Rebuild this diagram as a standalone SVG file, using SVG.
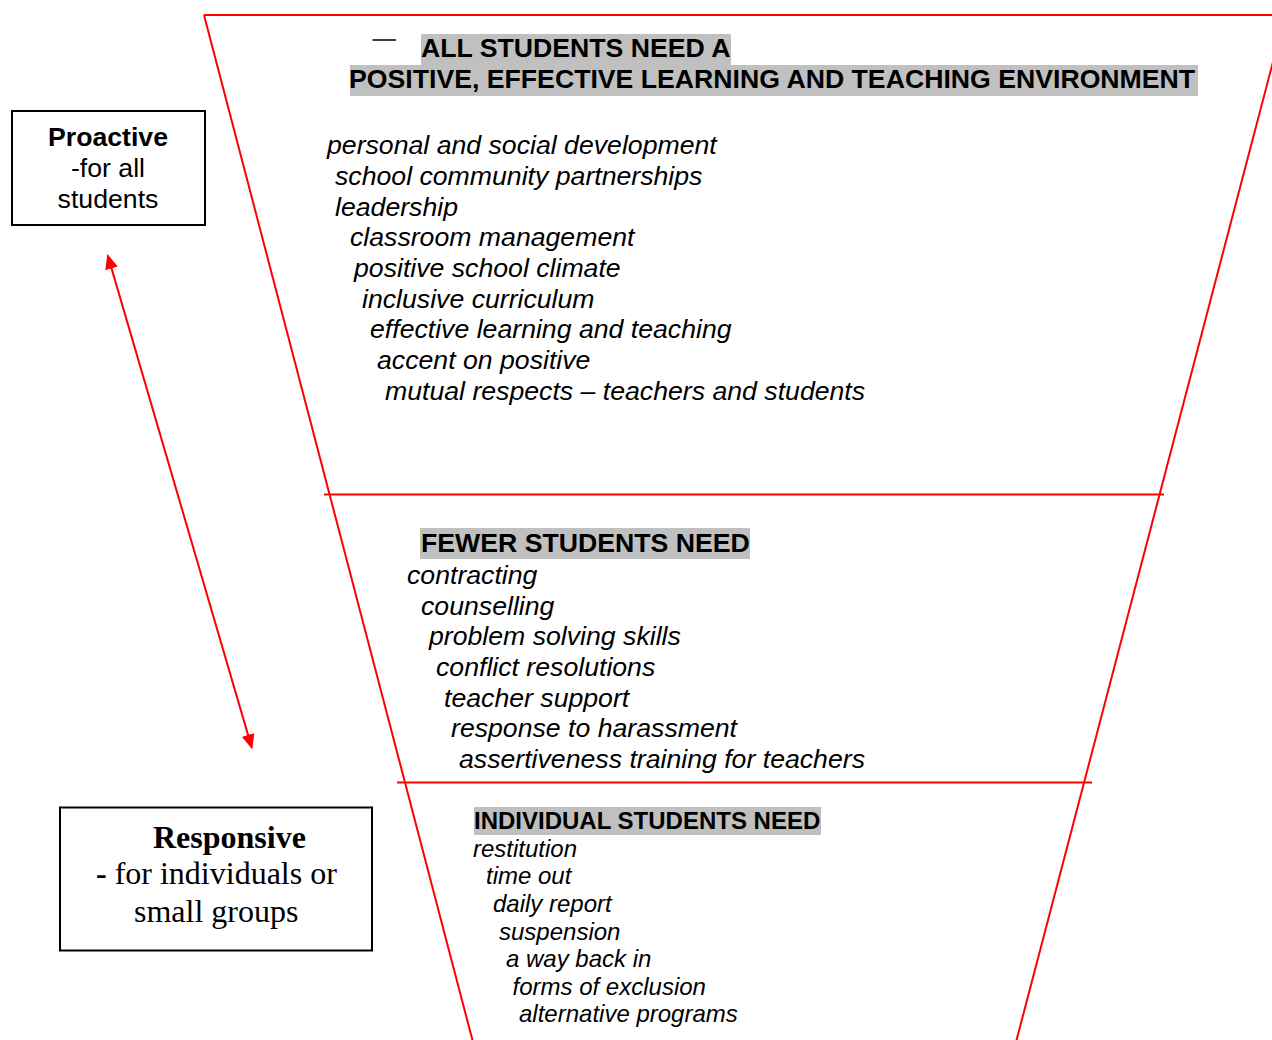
<svg xmlns="http://www.w3.org/2000/svg" width="1272" height="1040" viewBox="0 0 1272 1040">
<defs>
<style>
.red{stroke:#ff0000;stroke-width:2;fill:none}
.hl{fill:#c0c0c0}
.h{font-family:"Liberation Sans",Arial,sans-serif;font-weight:bold;fill:#000}
.it{font-family:"Liberation Sans",Arial,sans-serif;font-style:italic;font-size:26.67px;fill:#000}
.it24{font-family:"Liberation Sans",Arial,sans-serif;font-style:italic;font-size:24px;fill:#000}
.box{fill:#fff;stroke:#000;stroke-width:2}
.sans{font-family:"Liberation Sans",Arial,sans-serif;font-size:26.67px;fill:#000;text-anchor:middle}
.serif{font-family:"Liberation Serif","Times New Roman",serif;font-size:32px;fill:#000}
</style>
<marker id="ah" viewBox="0 0 15 13" refX="13" refY="6.5" markerWidth="15" markerHeight="13" markerUnits="userSpaceOnUse" orient="auto-start-reverse">
<path d="M0,0 L15,6.5 L0,13 z" fill="#ff0000"/>
</marker>
</defs>
<rect width="1272" height="1040" fill="#fff"/>
<g id="funnel">
<line class="red" x1="204" y1="15" x2="1272" y2="15"/>
<line class="red" x1="204" y1="15" x2="474" y2="1046"/>
<line class="red" x1="1274" y1="58" x2="1015" y2="1046"/>
<line class="red" x1="324" y1="494.5" x2="1164" y2="494.5"/>
<line class="red" x1="397" y1="782.5" x2="1092" y2="782.5"/>
</g>
<g id="tier-all">
<line x1="372.5" y1="40" x2="396" y2="40" stroke="#000" stroke-width="1.5"/>
<rect class="hl" x="421" y="34" width="310" height="31"/>
<rect class="hl" x="350" y="65" width="848" height="31"/>
<text class="h" x="421" y="57" font-size="26.67">ALL STUDENTS NEED A</text>
<text class="h" x="349" y="88" font-size="26.67">POSITIVE, EFFECTIVE LEARNING AND TEACHING ENVIRONMENT</text>
<text class="it" x="327" y="154">personal and social development</text>
<text class="it" x="335" y="185">school community partnerships</text>
<text class="it" x="335" y="216">leadership</text>
<text class="it" x="350" y="246">classroom management</text>
<text class="it" x="354" y="277">positive school climate</text>
<text class="it" x="362" y="308">inclusive curriculum</text>
<text class="it" x="370" y="338">effective learning and teaching</text>
<text class="it" x="377" y="369">accent on positive</text>
<text class="it" x="385" y="400">mutual respects – teachers and students</text>
</g>
<g id="tier-fewer">
<rect class="hl" x="420" y="528" width="330" height="31"/>
<text class="h" x="421" y="552" font-size="26.67">FEWER STUDENTS NEED</text>
<text class="it" x="407" y="584">contracting</text>
<text class="it" x="421" y="615">counselling</text>
<text class="it" x="429" y="645">problem solving skills</text>
<text class="it" x="436" y="676">conflict resolutions</text>
<text class="it" x="444" y="707">teacher support</text>
<text class="it" x="451" y="737">response to harassment</text>
<text class="it" x="459" y="768">assertiveness training for teachers</text>
</g>
<g id="tier-individual">
<rect class="hl" x="474" y="807" width="347" height="28"/>
<text class="h" x="474" y="828.5" font-size="24">INDIVIDUAL STUDENTS NEED</text>
<text class="it24" x="473" y="857">restitution</text>
<text class="it24" x="486" y="884">time out</text>
<text class="it24" x="493" y="912">daily report</text>
<text class="it24" x="499" y="940">suspension</text>
<text class="it24" x="506" y="967">a way back in</text>
<text class="it24" x="512.5" y="995">forms of exclusion</text>
<text class="it24" x="519" y="1022">alternative programs</text>
</g>
<g id="proactive">
<rect class="box" x="12" y="111" width="193" height="114"/>
<text class="sans" x="108" y="146" font-weight="bold">Proactive</text>
<text class="sans" x="108" y="177">-for all</text>
<text class="sans" x="108" y="207.5">students</text>
</g>
<g id="responsive">
<rect class="box" x="60" y="807.5" width="312" height="143"/>
<text class="serif" x="153" y="848" font-weight="bold">Responsive</text>
<text class="serif" x="96" y="883.5"><tspan font-weight="bold">-</tspan> for individuals or</text>
<text class="serif" x="134" y="921.5">small groups</text>
</g>
<g id="connectors">
<line x1="107.9" y1="255.9" x2="251.7" y2="747.4" stroke="#ff0000" stroke-width="2" marker-start="url(#ah)" marker-end="url(#ah)"/>
</g>
</svg>
